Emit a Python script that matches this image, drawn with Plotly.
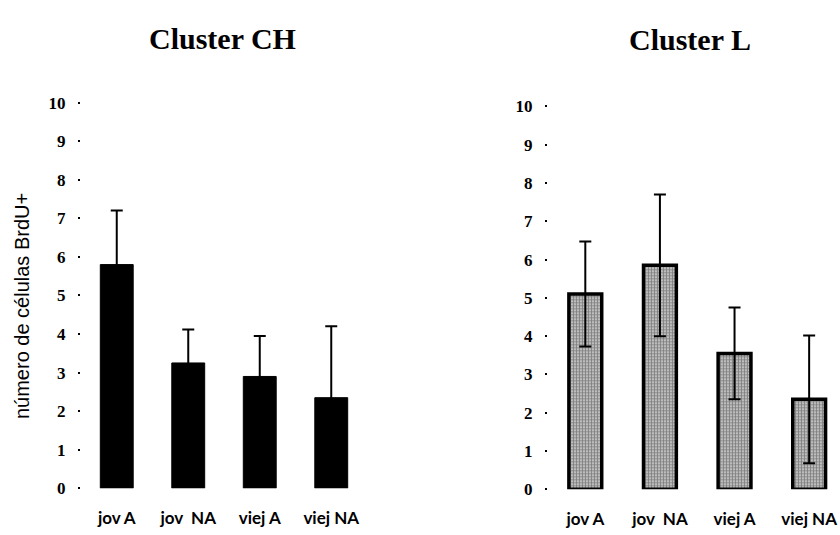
import plotly.graph_objects as go

categories = ["jov A", "jov  NA", "viej A", "viej NA"]
ch_values = [5.8, 3.25, 2.9, 2.35]
ch_errors = [1.4, 0.87, 1.05, 1.85]
l_values = [5.1, 5.85, 3.55, 2.35]
l_errors = [1.37, 1.85, 1.2, 1.67]
y_ticks = list(range(0, 11))
titles = ["Cluster CH", "Cluster L"]
y_title = "número de células BrdU+"

fig = go.Figure()
x_idx = list(range(len(categories)))

fig.add_trace(go.Bar(
    x=x_idx, y=ch_values, width=0.46,
    marker=dict(color="black", line=dict(color="black", width=1)),
    error_y=dict(type="data", array=ch_errors, visible=True, color="black", thickness=2, width=6),
    xaxis="x", yaxis="y", showlegend=False,
))
fig.add_trace(go.Bar(
    x=x_idx, y=l_values, width=0.44,
    marker=dict(color="white",
                line=dict(color="black", width=3.5),
                pattern=dict(shape=".", fgcolor="black", bgcolor="white", size=3, solidity=0.75)),
    error_y=dict(type="data", array=l_errors, visible=True, color="black", thickness=2, width=6),
    xaxis="x2", yaxis="y2", showlegend=False,
))

tickfont_y = dict(family="Liberation Serif", size=17, color="black", weight="bold")
tickfont_x = dict(family="Lato", size=17, color="black", weight="bold")

common_y = dict(range=[0, 10], tickvals=y_ticks, ticktext=[str(t) for t in y_ticks],
                showgrid=False, zeroline=False, showline=False,
                ticks="outside", ticklen=2, tickwidth=2, tickcolor="black",
                tickfont=tickfont_y, ticklabelstandoff=9)
common_x = dict(tickvals=x_idx, ticktext=categories, showgrid=False, zeroline=False,
                showline=False, ticks="", tickfont=tickfont_x, ticklabelstandoff=18)

fig.update_layout(
    width=840, height=535,
    margin=dict(l=0, r=0, t=0, b=0),
    paper_bgcolor="white", plot_bgcolor="white",
    bargap=0.5,
    xaxis=dict(domain=[81/840, 367/840], range=[-0.5, 3.5], anchor="y", **common_x),
    yaxis=dict(domain=[(535-497)/535, (535-97)/535], anchor="x", **common_y),
    xaxis2=dict(domain=[548/840, 839/840], range=[-0.5, 3.4], anchor="y2", **common_x),
    yaxis2=dict(domain=[(535-498)/535, (535-101)/535], anchor="x2", **common_y),
    annotations=[
        dict(text=titles[0], x=222/840, y=1-31/535, xref="paper", yref="paper",
             showarrow=False, xanchor="center", yanchor="middle",
             font=dict(family="Liberation Serif", size=30, color="black", weight="bold")),
        dict(text=titles[1], x=690/840, y=1-32/535, xref="paper", yref="paper",
             showarrow=False, xanchor="center", yanchor="middle",
             font=dict(family="Liberation Serif", size=30, color="black", weight="bold")),
        dict(text=y_title, x=22/840, y=1-308/535, xref="paper", yref="paper",
             showarrow=False, textangle=-90, xanchor="center", yanchor="middle",
             font=dict(family="Liberation Sans", size=20, color="black")),
    ],
)

fig.write_html("out.html")
